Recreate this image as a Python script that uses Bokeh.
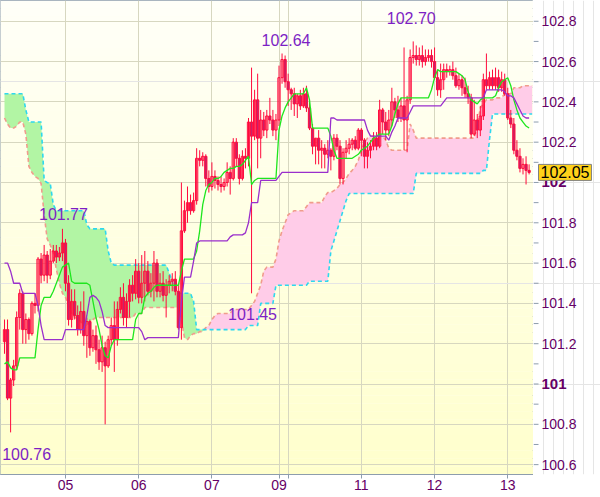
import numpy as np
from bokeh.plotting import figure
from bokeh.layouts import row
from bokeh.models import (ColumnDataSource, FixedTicker, Range1d, Label, Grid)
from bokeh.embed import file_html
from bokeh.resources import INLINE
from bokeh.core.properties import value

# ---------------- data (hourly candles, bar index 0..172) ----------------
open_ = [101.21, 101.27, 100.93, 101.02, 101.09, 101.33, 101.45, 101.27, 101.32, 101.25,
         101.40, 101.39, 101.62, 101.54, 101.64, 101.54, 101.61, 101.66, 101.63, 101.65,
         101.70, 101.50, 101.32, 101.41, 101.34, 101.27, 101.36, 101.24, 101.31, 101.18,
         101.24, 101.17, 101.11, 101.18, 101.09, 101.22, 101.29, 101.22, 101.37, 101.43,
         101.33, 101.41, 101.49, 101.45, 101.56, 101.43, 101.50, 101.56, 101.46, 101.50,
         101.60, 101.46, 101.50, 101.44, 101.49, 101.51, 101.52, 101.46, 101.28, 101.76,
         101.86, 101.90, 101.86, 101.91, 102.12, 102.11, 102.13, 102.02, 101.98, 102.03,
         102.01, 101.99, 101.98, 102.00, 102.05, 102.02, 102.20, 102.12, 102.02, 102.13,
         102.12, 102.30, 102.23, 102.41, 102.22, 102.31, 102.26, 102.33, 102.31, 102.26,
         102.31, 102.52, 102.61, 102.50, 102.46, 102.44, 102.39, 102.43, 102.38, 102.44,
         102.37, 102.27, 102.18, 102.22, 102.16, 102.17, 102.14, 102.16, 102.13, 102.22,
         102.18, 102.02, 102.15, 102.17, 102.19, 102.21, 102.17, 102.26, 102.21, 102.13,
         102.16, 102.18, 102.22, 102.18, 102.36, 102.30, 102.26, 102.31, 102.40, 102.36,
         102.32, 102.38, 102.31, 102.41, 102.62, 102.63, 102.61, 102.63, 102.60, 102.62,
         102.63, 102.60, 102.52, 102.46, 102.51, 102.56, 102.55, 102.56, 102.53, 102.48,
         102.51, 102.47, 102.44, 102.42, 102.24, 102.31, 102.26, 102.33, 102.51, 102.48,
         102.52, 102.48, 102.52, 102.47, 102.51, 102.44, 102.32, 102.29, 102.16, 102.13,
         102.07, 102.09, 102.06]
high = [101.32, 101.32, 101.03, 101.12, 101.36, 101.47, 101.46, 101.35, 101.33, 101.41,
        101.45, 101.63, 101.65, 101.69, 101.66, 101.67, 101.69, 101.69, 101.68, 101.77,
        101.72, 101.54, 101.47, 101.47, 101.39, 101.41, 101.46, 101.33, 101.32, 101.27,
        101.29, 101.22, 101.24, 101.21, 101.24, 101.33, 101.41, 101.41, 101.48, 101.50,
        101.45, 101.52, 101.54, 101.62, 101.60, 101.64, 101.66, 101.61, 101.55, 101.66,
        101.62, 101.55, 101.56, 101.52, 101.54, 101.55, 101.56, 101.49, 102.00, 101.91,
        101.98, 101.94, 101.95, 102.17, 102.16, 102.15, 102.14, 102.06, 102.10, 102.06,
        102.03, 102.03, 102.02, 102.10, 102.08, 102.22, 102.22, 102.14, 102.16, 102.17,
        102.32, 102.57, 102.46, 102.54, 102.36, 102.35, 102.36, 102.42, 102.36, 102.34,
        102.58, 102.64, 102.63, 102.54, 102.47, 102.47, 102.44, 102.46, 102.47, 102.48,
        102.41, 102.29, 102.22, 102.26, 102.21, 102.19, 102.21, 102.17, 102.24, 102.24,
        102.21, 102.17, 102.21, 102.22, 102.22, 102.23, 102.27, 102.27, 102.22, 102.20,
        102.21, 102.25, 102.25, 102.41, 102.37, 102.35, 102.36, 102.47, 102.42, 102.43,
        102.42, 102.67, 102.43, 102.66, 102.70, 102.68, 102.67, 102.68, 102.66, 102.66,
        102.66, 102.67, 102.56, 102.59, 102.59, 102.59, 102.58, 102.60, 102.57, 102.54,
        102.53, 102.52, 102.48, 102.44, 102.41, 102.34, 102.38, 102.54, 102.64, 102.55,
        102.56, 102.57, 102.56, 102.55, 102.54, 102.47, 102.36, 102.32, 102.21, 102.17,
        102.12, 102.13, 102.09]
low = [101.15, 100.92, 100.76, 100.99, 101.07, 101.27, 101.20, 101.20, 101.22, 101.24,
       101.35, 101.36, 101.50, 101.51, 101.50, 101.52, 101.60, 101.60, 101.61, 101.61,
       101.46, 101.29, 101.28, 101.32, 101.24, 101.25, 101.19, 101.13, 101.14, 101.16,
       101.10, 101.07, 101.06, 100.80, 101.08, 101.19, 101.06, 101.19, 101.35, 101.29,
       101.28, 101.33, 101.41, 101.42, 101.40, 101.40, 101.41, 101.44, 101.43, 101.41,
       101.43, 101.43, 101.41, 101.33, 101.45, 101.46, 101.44, 101.27, 101.22, 101.75,
       101.80, 101.84, 101.85, 101.89, 102.08, 102.08, 101.98, 101.95, 101.96, 101.97,
       101.96, 101.95, 101.96, 101.98, 101.94, 102.01, 102.08, 101.99, 102.01, 102.07,
       102.08, 101.45, 102.21, 102.07, 102.12, 102.23, 102.22, 102.29, 102.23, 102.21,
       102.28, 102.49, 102.47, 102.38, 102.36, 102.33, 102.32, 102.36, 102.37, 102.35,
       102.26, 102.14, 102.09, 102.09, 102.07, 102.07, 102.12, 102.06, 102.11, 102.16,
       101.99, 101.99, 102.12, 102.14, 102.16, 102.16, 102.16, 102.13, 102.07, 102.07,
       102.12, 102.16, 102.16, 102.17, 102.24, 102.21, 102.23, 102.28, 102.32, 102.30,
       102.30, 102.16, 102.15, 102.39, 102.59, 102.58, 102.58, 102.57, 102.58, 102.60,
       102.57, 102.51, 102.43, 102.42, 102.46, 102.52, 102.53, 102.51, 102.47, 102.46,
       102.43, 102.42, 102.39, 102.22, 102.23, 102.22, 102.23, 102.31, 102.46, 102.46,
       102.46, 102.46, 102.45, 102.45, 102.43, 102.31, 102.27, 102.14, 102.11, 102.05,
       102.04, 101.99, 102.04]
close = [101.27, 100.93, 101.02, 101.09, 101.33, 101.45, 101.27, 101.32, 101.25, 101.40,
         101.39, 101.62, 101.54, 101.64, 101.54, 101.61, 101.66, 101.63, 101.65, 101.70,
         101.50, 101.32, 101.41, 101.34, 101.27, 101.36, 101.24, 101.31, 101.18, 101.24,
         101.17, 101.11, 101.18, 101.09, 101.22, 101.29, 101.22, 101.37, 101.43, 101.33,
         101.41, 101.49, 101.45, 101.56, 101.43, 101.50, 101.56, 101.46, 101.50, 101.60,
         101.46, 101.50, 101.44, 101.49, 101.51, 101.52, 101.46, 101.28, 101.76, 101.86,
         101.90, 101.86, 101.91, 102.12, 102.11, 102.13, 102.02, 101.98, 102.03, 102.01,
         101.99, 101.98, 102.00, 102.05, 102.02, 102.20, 102.12, 102.02, 102.13, 102.12,
         102.30, 102.23, 102.41, 102.22, 102.31, 102.26, 102.33, 102.31, 102.26, 102.31,
         102.52, 102.61, 102.50, 102.46, 102.44, 102.39, 102.43, 102.38, 102.44, 102.37,
         102.27, 102.18, 102.22, 102.16, 102.17, 102.14, 102.16, 102.13, 102.22, 102.18,
         102.02, 102.15, 102.17, 102.19, 102.21, 102.17, 102.26, 102.21, 102.13, 102.16,
         102.18, 102.22, 102.18, 102.36, 102.30, 102.26, 102.31, 102.40, 102.36, 102.32,
         102.38, 102.31, 102.41, 102.62, 102.63, 102.61, 102.63, 102.60, 102.62, 102.63,
         102.60, 102.52, 102.46, 102.51, 102.56, 102.55, 102.56, 102.53, 102.48, 102.51,
         102.47, 102.44, 102.42, 102.24, 102.31, 102.26, 102.33, 102.51, 102.48, 102.52,
         102.48, 102.52, 102.47, 102.51, 102.44, 102.32, 102.29, 102.16, 102.13, 102.07,
         102.09, 102.06, 102.05]

# conversion line (green) and base line (purple)
tenkan = [101.10, 101.11, 101.08, 101.07, 101.07, 101.13, 101.13, 101.13, 101.13, 101.13,
          101.13, 101.27, 101.39, 101.43, 101.43, 101.43, 101.46, 101.50, 101.54, 101.58,
          101.59, 101.60, 101.51, 101.50, 101.50, 101.50, 101.50, 101.50, 101.49, 101.41,
          101.33, 101.27, 101.19, 101.14, 101.13, 101.19, 101.22, 101.22, 101.22, 101.22,
          101.22, 101.22, 101.22, 101.32, 101.35, 101.35, 101.43, 101.45, 101.46, 101.48,
          101.49, 101.49, 101.49, 101.49, 101.49, 101.49, 101.49, 101.49, 101.56, 101.62,
          101.62, 101.62, 101.62, 101.66, 101.76, 101.89, 101.96, 101.99, 102.00, 102.02,
          102.02, 102.03, 102.05, 102.06, 102.07, 102.07, 102.08, 102.08, 102.09, 102.11,
          102.13, 101.99, 102.01, 102.02, 102.02, 102.02, 102.02, 102.02, 102.02, 102.02,
          102.26, 102.33, 102.37, 102.40, 102.42, 102.44, 102.44, 102.44, 102.44, 102.47,
          102.41, 102.27, 102.27, 102.27, 102.27, 102.27, 102.27, 102.23, 102.16, 102.12,
          102.12, 102.12, 102.12, 102.12, 102.12, 102.13, 102.14, 102.16, 102.17, 102.18,
          102.20, 102.22, 102.23, 102.24, 102.24, 102.24, 102.24, 102.28, 102.34, 102.39,
          102.42, 102.42, 102.42, 102.42, 102.42, 102.42, 102.42, 102.42, 102.42, 102.42,
          102.46, 102.52, 102.56, 102.55, 102.55, 102.55, 102.55, 102.55, 102.55, 102.54,
          102.53, 102.51, 102.45, 102.41, 102.40, 102.39, 102.41, 102.42, 102.42, 102.42,
          102.42, 102.43, 102.47, 102.50, 102.51, 102.52, 102.48, 102.41, 102.36, 102.32,
          102.30, 102.28, 102.27]
kijun = [101.60, 101.60, 101.56, 101.50, 101.50, 101.50, 101.45, 101.45, 101.45, 101.45,
         101.45, 101.39, 101.29, 101.22, 101.22, 101.22, 101.22, 101.22, 101.22, 101.22,
         101.27, 101.27, 101.27, 101.27, 101.27, 101.27, 101.27, 101.34, 101.43, 101.44,
         101.43, 101.41, 101.36, 101.29, 101.28, 101.28, 101.28, 101.28, 101.28, 101.28,
         101.28, 101.28, 101.28, 101.28, 101.28, 101.26, 101.22, 101.23, 101.23, 101.23,
         101.23, 101.23, 101.23, 101.23, 101.23, 101.23, 101.23, 101.23, 101.41, 101.53,
         101.53, 101.53, 101.61, 101.70, 101.71, 101.71, 101.71, 101.71, 101.71, 101.71,
         101.71, 101.71, 101.71, 101.71, 101.73, 101.74, 101.74, 101.74, 101.74, 101.75,
         101.80, 101.90, 101.90, 101.90, 102.01, 102.01, 102.01, 102.01, 102.01, 102.01,
         102.03, 102.05, 102.05, 102.05, 102.05, 102.05, 102.05, 102.05, 102.05, 102.05,
         102.05, 102.05, 102.05, 102.05, 102.05, 102.05, 102.05, 102.32, 102.32, 102.31,
         102.31, 102.31, 102.31, 102.31, 102.31, 102.31, 102.31, 102.31, 102.31, 102.26,
         102.23, 102.23, 102.23, 102.23, 102.23, 102.23, 102.21, 102.25, 102.28, 102.32,
         102.32, 102.32, 102.32, 102.35, 102.38, 102.38, 102.38, 102.38, 102.38, 102.38,
         102.38, 102.38, 102.38, 102.38, 102.40, 102.42, 102.42, 102.42, 102.42, 102.42,
         102.42, 102.42, 102.42, 102.42, 102.42, 102.42, 102.42, 102.42, 102.46, 102.46,
         102.46, 102.46, 102.46, 102.46, 102.45, 102.43, 102.43, 102.42, 102.39, 102.36,
         102.33, 102.32, 102.32]

# leading spans (cloud), bar index 0..173
span_a = [102.32, 102.29, 102.27, 102.27, 102.28, 102.30, 102.30, 102.24, 102.08, 102.05,
          102.03, 102.02, 101.995, 101.84, 101.72, 101.69, 101.65, 101.57, 101.50, 101.45,
          101.43, 101.39, 101.35, 101.33, 101.325, 101.31, 101.28, 101.29, 101.31, 101.32,
          101.33, 101.33, 101.33, 101.33, 101.33, 101.33, 101.33, 101.33, 101.33, 101.33,
          101.33, 101.33, 101.33, 101.35, 101.35, 101.35, 101.38, 101.38, 101.38, 101.38,
          101.38, 101.38, 101.38, 101.38, 101.38, 101.38, 101.38, 101.38, 101.32, 101.23,
          101.22, 101.24, 101.25, 101.25, 101.26, 101.26, 101.28, 101.29, 101.32, 101.34,
          101.35, 101.35, 101.35, 101.35, 101.35, 101.37, 101.37, 101.37, 101.37, 101.37,
          101.37, 101.39, 101.41, 101.45, 101.49, 101.56, 101.58, 101.58, 101.58, 101.62,
          101.71, 101.76, 101.80, 101.84, 101.85, 101.86, 101.86, 101.86, 101.86, 101.88,
          101.90, 101.90, 101.90, 101.90, 101.90, 101.93, 101.95, 101.95, 101.96, 101.97,
          101.99, 102.00, 102.02, 102.045, 102.06, 102.08, 102.11, 102.16, 102.20, 102.22,
          102.23, 102.23, 102.23, 102.23, 102.23, 102.21, 102.17, 102.16, 102.16, 102.16,
          102.16, 102.16, 102.16, 102.29, 102.26, 102.22, 102.22, 102.22, 102.22, 102.22,
          102.22, 102.22, 102.22, 102.22, 102.22, 102.22, 102.22, 102.22, 102.22, 102.22,
          102.22, 102.22, 102.22, 102.22, 102.22, 102.28, 102.37, 102.39, 102.41, 102.41,
          102.41, 102.42, 102.42, 102.42, 102.44, 102.44, 102.44, 102.47, 102.47, 102.47,
          102.48, 102.48, 102.48, 102.48]
span_b = [102.44, 102.44, 102.44, 102.44, 102.44, 102.44, 102.44, 102.36, 102.30, 102.30,
          102.30, 102.30, 102.30, 102.01, 102.00, 101.995, 101.89, 101.86, 101.86, 101.86,
          101.86, 101.86, 101.86, 101.86, 101.86, 101.86, 101.86, 101.79, 101.77, 101.77,
          101.77, 101.77, 101.77, 101.77, 101.66, 101.60, 101.59, 101.59, 101.59, 101.59,
          101.59, 101.59, 101.59, 101.59, 101.59, 101.59, 101.59, 101.59, 101.59, 101.59,
          101.59, 101.59, 101.59, 101.59, 101.55, 101.51, 101.46, 101.45, 101.45, 101.45,
          101.45, 101.45, 101.41, 101.27, 101.27, 101.27, 101.27, 101.27, 101.27, 101.27,
          101.27, 101.27, 101.27, 101.27, 101.27, 101.27, 101.27, 101.27, 101.27, 101.27,
          101.29, 101.29, 101.29, 101.29, 101.40, 101.40, 101.40, 101.40, 101.40, 101.49,
          101.49, 101.49, 101.49, 101.49, 101.49, 101.49, 101.49, 101.49, 101.49, 101.49,
          101.51, 101.51, 101.51, 101.51, 101.51, 101.51, 101.51, 101.66, 101.71, 101.76,
          101.81, 101.86, 101.91, 101.945, 101.945, 101.945, 101.945, 101.945, 101.945, 101.945,
          101.945, 101.945, 101.945, 101.945, 101.945, 101.945, 101.945, 101.945, 101.945, 101.945,
          101.945, 101.945, 101.945, 101.945, 101.945, 102.045, 102.045, 102.045, 102.045, 102.045,
          102.045, 102.045, 102.045, 102.045, 102.045, 102.045, 102.045, 102.045, 102.045, 102.045,
          102.045, 102.045, 102.045, 102.045, 102.045, 102.045, 102.045, 102.06, 102.06, 102.21,
          102.34, 102.34, 102.34, 102.34, 102.34, 102.34, 102.34, 102.34, 102.34, 102.34,
          102.34, 102.34, 102.34, 102.34]

# day boundaries (bar index) and labels
day_ticks = [20, 44, 68, 90, 93, 117, 141, 165]
day_labels = ["05", "06", "07", "09", "", "11", "12", "13"]

# price scale
price_ticks = [100.6, 100.8, 101.0, 101.2, 101.4, 101.6, 101.8, 102.0, 102.2, 102.4, 102.6, 102.8]
price_labels = ["100.6", "100.8", "101", "101.2", "101.4", "101.6", "101.8", "102",
                "102.2", "102.4", "102.6", "102.8"]
price_minor = [100.7, 100.9, 101.1, 101.3, 101.5, 101.7, 101.9, 102.1, 102.3, 102.5, 102.7]

# marked extremes
ext_bar = [134, 91, 19, 81, 2]
ext_price = [102.70, 102.64, 101.77, 101.45, 100.76]
ext_text = ["102.70", "102.64", "101.77", "101.45", "100.76"]

last_price = 102.05

# ---------------- main figure ----------------
FONT = "Liberation Sans"
AXIS_COL = "#8D9DAD"
LBL_COL = "#660066"
GRID_COL = "#D7D7C0"
FW, FH = 533, 474
RW = 67
Y0, Y1 = 100.551, 102.903

p = figure(frame_width=FW, frame_height=FH, output_backend="svg", toolbar_location=None,
           x_range=Range1d(-1.31, 173.44), y_range=Range1d(Y0, Y1),
           y_axis_location=None, min_border_left=0, min_border_top=0,
           min_border_right=0, min_border_bottom=23)
p.background_fill_color = "#FFFFF0"
p.border_fill_color = "white"
p.outline_line_color = AXIS_COL

# vertical gradient background (decoration)
nb = 60
edges = np.linspace(Y0, Y1, nb + 1)
tt = (np.arange(nb) + 0.5) / nb
cols = ["#%02x%02x%02x" % (255, 255, int(round(204 + t * 44))) for t in tt]
p.quad(left=-5, right=180, bottom=edges[:-1], top=edges[1:], fill_color=cols,
       line_color=None, level="image")

p.add_layout(Grid(dimension=1, ticker=FixedTicker(ticks=price_ticks),
                  grid_line_color=GRID_COL))

# cloud
sa = np.array(span_a)
sb = np.array(span_b)
xs = np.arange(len(sa))
p.varea(x=xs, y1=sa, y2=np.where(sb > sa, sb, sa), fill_color="#B2F5A4")
p.varea(x=xs, y1=sb, y2=np.where(sa > sb, sa, sb), fill_color="#FFCCE8")
p.line(xs, sa, line_color="#F09C8C", line_dash="4 3", line_width=1.6)
p.line(xs, sb, line_color="#2ED8EE", line_dash="4 3", line_width=1.6)

# candles
o = np.array(open_); h = np.array(high); l = np.array(low); c = np.array(close)
idx = np.arange(len(c))
up = c >= o
dn = ~up
RED = "#FF0A3C"
p.segment(x0=idx, y0=l, x1=idx, y1=h, line_color=RED, line_width=1)
p.vbar(x=idx[up], width=0.74, top=c[up], bottom=o[up], fill_color=None,
       line_color=RED, line_width=1)
p.vbar(x=idx[dn], width=0.74, top=o[dn], bottom=c[dn], fill_color="#C8206A",
       line_color=RED, line_width=1)

# lines
p.line(idx, tenkan, line_color="#1EE61E", line_width=1.3)
p.line(idx, kijun, line_color="#9A2FCC", line_width=1.3)

# extreme labels
ext_src = ColumnDataSource(dict(x=ext_bar, y=ext_price, text=ext_text,
                                xo=[-2, 4, 1, 1, 16], yo=[-23, -14, -15, 21, 22]))
p.text(x="x", y="y", text="text", x_offset="xo", y_offset="yo", source=ext_src,
       text_align="center", text_baseline="middle", text_font=value(FONT),
       text_font_size=value("16px"), text_color="#7D1FC4")

# bottom (date) axis
xa = p.xaxis[0]
xa.ticker = FixedTicker(ticks=day_ticks)
xa.major_label_overrides = {t: s for t, s in zip(day_ticks, day_labels)}
xa.major_label_text_font = FONT
xa.major_label_text_font_size = "14px"
xa.major_label_text_color = LBL_COL
xa.axis_line_color = AXIS_COL
xa.major_tick_line_color = AXIS_COL
xa.minor_tick_line_color = None
xa.major_tick_in = 0
xa.major_tick_out = 4
xa.major_label_standoff = 1
p.xgrid.ticker = FixedTicker(ticks=day_ticks)
p.xgrid.grid_line_color = GRID_COL

# ---------------- right price scale panel ----------------
q = figure(frame_width=RW, frame_height=FH, output_backend="svg", toolbar_location=None,
           x_range=Range1d(0, RW), y_range=p.y_range,
           x_axis_location=None, y_axis_location=None,
           min_border_left=0, min_border_top=0, min_border_right=0, min_border_bottom=23)
q.outline_line_color = None
q.background_fill_color = "white"
q.border_fill_color = "white"

all_ticks = price_ticks + price_minor
q.segment(x0=[0] * len(all_ticks), y0=all_ticks, x1=[5] * len(all_ticks), y1=all_ticks,
          line_color=AXIS_COL, line_width=1)

norm_v = [v for v, s in zip(price_ticks, price_labels) if "." in s]
norm_s = [s for s in price_labels if "." in s]
bold_v = [v for v, s in zip(price_ticks, price_labels) if "." not in s]
bold_s = [s for s in price_labels if "." not in s]
q.text(x=[8] * len(norm_v), y=norm_v, text=norm_s, text_align="left",
       text_baseline="middle", text_font=value(FONT), text_font_size=value("14px"),
       text_color=LBL_COL)
q.text(x=[8] * len(bold_v), y=bold_v, text=bold_s, text_align="left",
       text_baseline="middle", text_font=value(FONT), text_font_size=value("15px"),
       text_font_style="bold", text_color=LBL_COL)

q.add_layout(Label(x=5, y=last_price, text="%.2f" % last_price, text_font=FONT,
                   text_font_size="16px", text_color="black", text_baseline="middle",
                   text_align="left", background_fill_color="#FFD21A",
                   border_line_color="#808080", padding=2))

layout = row(p, q)
open("out.html", "w").write(file_html(layout, INLINE))
